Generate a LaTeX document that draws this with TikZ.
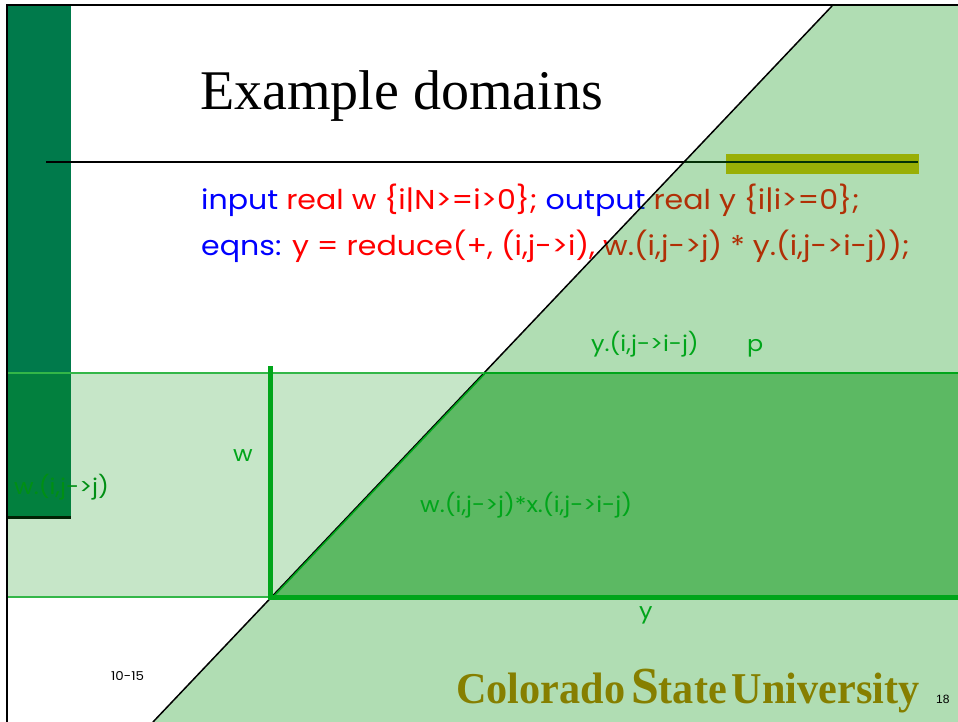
\documentclass[tikz,border=0pt]{standalone}
\usepackage{fontspec}
\setmainfont{Liberation Serif}
\newfontfamily\comic[FakeStretch=1.1]{Poppins}
\newfontfamily\logofont[FakeStretch=0.96,BoldFont={Liberation Serif Bold}]{Liberation Serif}
\newfontfamily\smallsans{Liberation Sans}
\definecolor{barg}{HTML}{007A4B}
\definecolor{golden}{HTML}{DEBB00}
\definecolor{ov}{RGB}{10,150,20}
\definecolor{grn}{HTML}{00A51A}
\definecolor{wgrn}{HTML}{008F14}
\definecolor{logo}{HTML}{867F00}
\definecolor{codeblue}{HTML}{0000FF}
\definecolor{codered}{HTML}{FF0000}
\tikzset{
  lbl/.style={inner sep=0pt,anchor=base west,text=grn,font=\comic\fontsize{21.7}{21.7}\selectfont},
  code/.style={inner sep=0pt,anchor=base west,font=\comic\fontsize{27.3}{27.3}\selectfont},
  thickg/.style={draw=grn,line width=5pt},
  thing/.style={draw=grn!80!white,line width=1.5pt}
}
\begin{document}
\begin{tikzpicture}[x=1pt,y=-1pt]
\useasboundingbox (0,0) rectangle (958,722);
\fill[white] (0,0) rectangle (958,722);
% slide base
\fill[barg] (8,6) rectangle (71,516);
\fill[black] (8,516) rectangle (71,519);
\fill[golden] (726,154) rectangle (919,174);
\draw[black,line width=1.5pt] (46,162) -- (918,162);
\draw[black,line width=2pt] (7,722) -- (7,5.5) -- (958,5.5);
\node[inner sep=0pt,anchor=base west,font=\fontsize{56}{56}\selectfont] (title) at (200,109.5) {Example domains};
\node[code] (l1) at (201,209) {\textcolor{codeblue}{input} \textcolor{codered}{real w \{i|N>=i>0\};} \textcolor{codeblue}{output} \textcolor{codered}{real y \{i|i>=0\};}};
\node[code] (l2) at (201,255) {\textcolor{codeblue}{eqns:} \textcolor{codered}{y = reduce(+, (i,j->i), w.(i,j->j) * y.(i,j->i-j));}};
% overlays
\fill[ov,opacity=.32] (832,6) -- (958,6) -- (958,722) -- (153,722) -- cycle;
\fill[ov,opacity=.23] (8,373) rectangle (958,597);
\fill[ov,opacity=.35] (484,373) -- (958,373) -- (958,597) -- (271,597) -- cycle;
\draw[black,line width=1.5pt] (832,6) -- (153,722);
\draw[thing] (8,373) -- (958,373);
\draw[thing] (8,597) -- (958,597);
\draw[grn,line width=1.5pt] (273,597) -- (484.5,374);
\draw[grn,line width=2.5pt] (484,373) -- (958,373);
\draw[thickg] (270.5,366) -- (270.5,597);
\draw[thickg] (268,597) -- (958,597);
\node[inner sep=0pt,anchor=base west,text=wgrn,font=\comic\fontsize{21.7}{21.7}\selectfont] (wij) at (14,494) {w.(i,j->j)};
\node[lbl] (w) at (233,461) {w};
\node[lbl] (p) at (747,351) {p};
\node[lbl] (yij) at (591,351) {y.(i,j->i-j)};
\node[lbl] (prod) at (420,512) {w.(i,j->j)*x.(i,j->i-j)};
\node[lbl] (y) at (639,618) {y};
\node[inner sep=0pt,anchor=base west,font=\comic\fontsize{12.2}{12.2}\selectfont] (date) at (111,680) {10-15};
\node[inner sep=0pt,anchor=base west,text=logo,font=\logofont\bfseries\fontsize{44}{44}\selectfont] (csu) at (456,703) {Colorado\hspace{6pt}{\fontsize{52}{52}\selectfont S}tate\hspace{5pt}University};
\node[inner sep=0pt,anchor=base west,font=\smallsans\fontsize{12}{12}\selectfont] (num) at (936,703) {18};
\end{tikzpicture}
\end{document}
